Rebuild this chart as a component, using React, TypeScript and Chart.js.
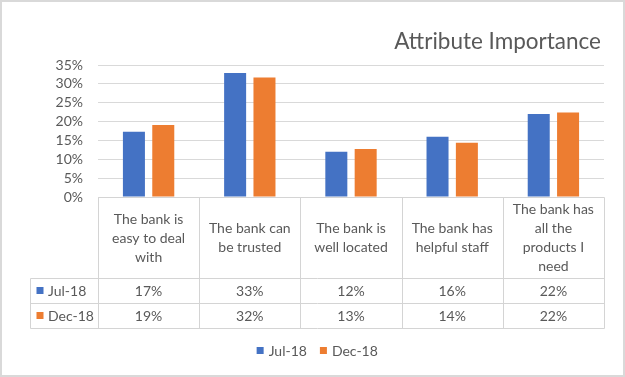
import { useEffect, useRef } from "react";
import { Chart, registerables } from "chart.js";

Chart.register(...registerables);

const chartTitle = "Attribute Importance";
const categories: string[][] = [
  ["The bank is", "easy to deal", "with"],
  ["The bank can", "be trusted"],
  ["The bank is", "well located"],
  ["The bank has", "helpful staff"],
  ["The bank has", "all the", "products I", "need"],
];
const seriesNames = ["Jul-18", "Dec-18"];
const jul18 = [0.173, 0.329, 0.12, 0.16, 0.22];
const dec18 = [0.191, 0.317, 0.127, 0.144, 0.224];
const seriesColors = ["#4472C4", "#ED7D31"];
const yMin = 0;
const yMax = 0.35;
const yStep = 0.05;

const FONT = "Lato, 'Open Sans', sans-serif";
const TEXT = "#595959";
const LINE = "#d4d4d4";

const pct = (v: number) => `${Math.round(v * 100)}%`;

const tablePlugin = {
  id: "excelTable",
  beforeDraw(chart: any) {
    const ctx = chart.ctx;
    ctx.save();
    ctx.fillStyle = "#ffffff";
    ctx.fillRect(0, 0, chart.width, chart.height);
    ctx.strokeStyle = "#d9d9d9";
    ctx.lineWidth = 2;
    ctx.strokeRect(1, 1, chart.width - 2, chart.height - 2);
    ctx.restore();
  },
  afterDraw(chart: any) {
    const ctx = chart.ctx as CanvasRenderingContext2D;
    const area = chart.chartArea;
    const n = categories.length;
    const catW = (area.right - area.left) / n;
    const top = Math.round(area.bottom) + 0.5;
    const headerBottom = top + 81;
    const rowH = 25;
    const tableLeft = 30.5;
    const tableBottom = headerBottom + rowH * chart.data.datasets.length;
    const right = Math.round(area.right) + 0.5;
    const left = Math.round(area.left) + 0.5;

    ctx.save();
    // title
    ctx.fillStyle = TEXT;
    ctx.font = `22.5px ${FONT}`;
    ctx.textAlign = "right";
    ctx.textBaseline = "alphabetic";
    ctx.fillText(chartTitle, 601, 49);

    // table lines
    ctx.strokeStyle = LINE;
    ctx.lineWidth = 1;
    ctx.beginPath();
    ctx.moveTo(left, top);
    ctx.lineTo(right, top);
    for (let r = 0; r <= chart.data.datasets.length; r++) {
      const y = headerBottom + r * rowH;
      ctx.moveTo(tableLeft, y);
      ctx.lineTo(right, y);
    }
    ctx.moveTo(tableLeft, headerBottom);
    ctx.lineTo(tableLeft, tableBottom);
    for (let i = 0; i <= n; i++) {
      const x = Math.round(area.left + i * catW) + 0.5;
      ctx.moveTo(x, top);
      ctx.lineTo(x, tableBottom);
    }
    ctx.stroke();

    // header text
    ctx.font = `14px ${FONT}`;
    ctx.fillStyle = TEXT;
    ctx.textAlign = "center";
    ctx.textBaseline = "middle";
    const lineH = 19;
    const headerMid = (top + headerBottom) / 2;
    categories.forEach((lines, i) => {
      const cx = chart.scales.x.getPixelForValue(i);
      const startY = headerMid - ((lines.length - 1) * lineH) / 2;
      lines.forEach((ln, j) => ctx.fillText(ln, cx, startY + j * lineH));
    });

    // data rows
    chart.data.datasets.forEach((ds: any, r: number) => {
      const cy = headerBottom + r * rowH + rowH / 2;
      ctx.fillStyle = ds.backgroundColor;
      ctx.fillRect(tableLeft + 6, cy - 4, 7, 7);
      ctx.fillStyle = TEXT;
      ctx.textAlign = "left";
      ctx.fillText(ds.label, tableLeft + 17.5, cy);
      ctx.textAlign = "center";
      ds.data.forEach((v: number, i: number) => {
        const cx = chart.scales.x.getPixelForValue(i);
        ctx.fillText(pct(v), cx, cy);
      });
    });

    // legend
    const legendY = 351;
    const items = chart.data.datasets.map((ds: any) => ({
      label: ds.label,
      color: ds.backgroundColor,
      w: 7 + 5 + ctx.measureText(ds.label).width,
    }));
    const gap = 13;
    const total = items.reduce((s: number, it: any) => s + it.w, 0) + gap * (items.length - 1);
    let x = (tableLeft + area.right) / 2 - total / 2;
    ctx.textAlign = "left";
    items.forEach((it: any) => {
      ctx.fillStyle = it.color;
      ctx.fillRect(x, legendY - 4, 7, 7);
      ctx.fillStyle = TEXT;
      ctx.fillText(it.label, x + 12, legendY);
      x += it.w + gap;
    });
    ctx.restore();
  },
};

export default function App() {
  const ref = useRef<HTMLCanvasElement | null>(null);
  useEffect(() => {
    document.body.style.margin = "0";
    const canvas = ref.current;
    if (!canvas) return;
    const chart = new Chart(canvas, {
      type: "bar",
      data: {
        labels: categories,
        datasets: [
          { label: seriesNames[0], data: jul18, backgroundColor: seriesColors[0] },
          { label: seriesNames[1], data: dec18, backgroundColor: seriesColors[1] },
        ],
      },
      options: {
        responsive: false,
        animation: false,
        devicePixelRatio: 1,
        layout: { padding: { left: 0, right: 21, top: 65, bottom: 180 } },
        datasets: { bar: { barPercentage: 0.75, categoryPercentage: 0.58 } },
        plugins: { legend: { display: false }, title: { display: false }, tooltip: { enabled: false } },
        scales: {
          x: { display: false },
          y: {
            min: yMin,
            max: yMax,
            afterFit: (scale: any) => {
              scale.width = 98;
            },
            border: { display: false },
            grid: { color: "#d9d9d9", drawTicks: false },
            ticks: {
              stepSize: yStep,
              autoSkip: false,
              padding: 15,
              color: TEXT,
              font: { family: FONT, size: 14 },
              callback: (v: any) => pct(Number(v)),
            },
          },
        },
      },
      plugins: [tablePlugin],
    });
    return () => chart.destroy();
  }, []);
  return (
    <div style={{ position: "absolute", left: 0, top: 0, width: 625, height: 377 }}>
      <canvas ref={ref} width={625} height={377} style={{ width: 625, height: 377 }} />
    </div>
  );
}
